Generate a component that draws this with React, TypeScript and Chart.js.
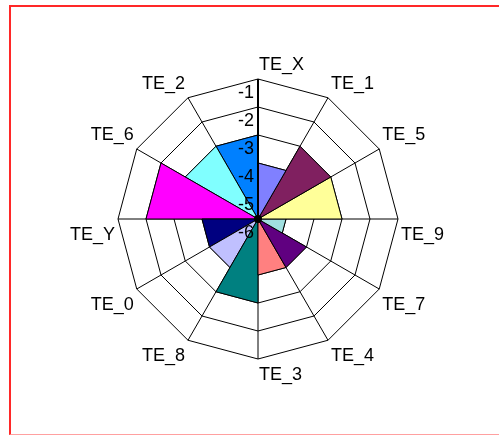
import React, { useEffect, useRef } from 'react';
import { Chart, registerables } from 'chart.js';

Chart.register(...registerables);

// Categories clockwise from the top
const categories = ['TE_X', 'TE_1', 'TE_5', 'TE_9', 'TE_7', 'TE_4', 'TE_3', 'TE_8', 'TE_0', 'TE_Y', 'TE_6', 'TE_2'];
// Each series fills the wedge between category i and category i+1
const wedgeValues = [-4, -3, -3, -5, -4, -4, -3, -4, -4, -2, -3, -3];
const wedgeColors = ['#8080FF', '#802060', '#FFFF99', '#A0E0E0', '#600080', '#FF8080', '#008080', '#C0C0FF', '#000080', '#FF00FF', '#80FFFF', '#0080FF'];
const tickValues = [-6, -5, -4, -3, -2, -1];
const tickLabels = ['-6', '-5', '-4', '-3', '-2', '-1'];
const scaleMin = -6;
const scaleMax = -1;

const FONT = '18px "Liberation Sans", Arial, sans-serif';

const overlay = {
  id: 'overlay',
  afterDatasetsDraw(chart: any) {
    const scale = chart.scales.r;
    const ctx = chart.ctx as CanvasRenderingContext2D;
    const cx = scale.xCenter;
    const cy = scale.yCenter;
    ctx.save();
    const top = scale.getPointPositionForValue(0, scaleMax);
    ctx.strokeStyle = '#000';
    ctx.lineWidth = 2;
    ctx.beginPath();
    ctx.moveTo(cx, cy);
    ctx.lineTo(top.x, top.y);
    ctx.stroke();
    ctx.beginPath();
    ctx.arc(cx, cy, 4, 0, Math.PI * 2);
    ctx.fillStyle = '#000';
    ctx.fill();

    ctx.font = FONT;
    ctx.fillStyle = '#000';
    ctx.textBaseline = 'alphabetic';
    ctx.textAlign = 'right';
    tickValues.forEach((v, k) => {
      const p = scale.getPointPositionForValue(0, v);
      ctx.fillText(tickLabels[k], p.x - 4, p.y + 19);
    });

    const n = categories.length;
    categories.forEach((lab, i) => {
      const p = scale.getPointPositionForValue(i, scaleMax);
      const a = (i * Math.PI * 2) / n;
      const s = Math.sin(a);
      const c = Math.cos(a);
      let x: number;
      let align: CanvasTextAlign;
      if (Math.abs(s) < 0.01) {
        align = 'left';
        x = p.x + 1;
      } else if (s > 0) {
        align = 'left';
        x = p.x + 3;
      } else {
        align = 'right';
        x = p.x - 3;
      }
      const y = c > 0.01 ? p.y - 9 : p.y + 21;
      ctx.textAlign = align;
      ctx.fillText(lab, x, y);
    });
    ctx.restore();
  },
};

export default function App() {
  const ref = useRef<HTMLCanvasElement | null>(null);
  useEffect(() => {
    if (!ref.current) return;
    const n = categories.length;
    const datasets = wedgeValues.map((v, i) => ({
      label: categories[i] + '-' + categories[(i + 1) % n],
      data: categories.map((_, j) => (j === i || j === (i + 1) % n ? v : scaleMin)),
      backgroundColor: wedgeColors[i],
      borderColor: '#000',
      borderWidth: 1,
      fill: 'start',
      pointRadius: 0,
      tension: 0,
    }));
    const chart = new Chart(ref.current, {
      type: 'radar',
      data: { labels: categories, datasets: datasets as any },
      options: {
        responsive: false,
        animation: false,
        devicePixelRatio: 1,
        layout: { padding: { left: 118, top: 79, right: 101, bottom: 77 } },
        plugins: {
          legend: { display: false },
          tooltip: { enabled: false },
          title: { display: false },
        },
        scales: {
          r: {
            min: scaleMin,
            max: scaleMax,
            ticks: { display: false, stepSize: 1 },
            pointLabels: { display: false },
            grid: { color: '#000', lineWidth: 1 },
            angleLines: { color: '#000', lineWidth: 1 },
          },
        },
      },
      plugins: [overlay],
    } as any);
    return () => chart.destroy();
  }, []);

  return (
    <div style={{ position: 'absolute', left: 0, top: 0, width: 499, height: 436, overflow: 'hidden', background: '#fff' }}>
      <div
        style={{
          position: 'absolute',
          left: 9,
          top: 5,
          width: 520,
          height: 427,
          borderTop: '2px solid #ff2828',
          borderLeft: '2px solid #ff2828',
          borderBottom: '1px solid #ffa0a0',
        }}
      />
      <canvas ref={ref} width={499} height={436} style={{ position: 'absolute', left: 0, top: 0, display: 'block' }} />
    </div>
  );
}
